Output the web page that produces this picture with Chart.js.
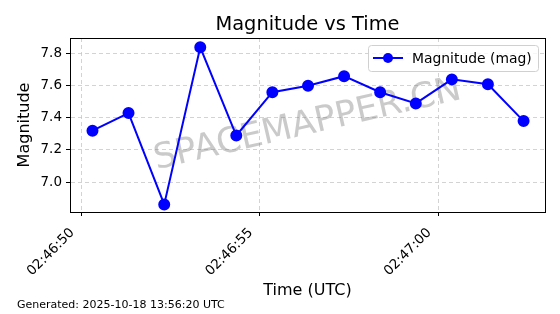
<!DOCTYPE html>
<html>
<head>
<meta charset="utf-8">
<script src="https://cdn.jsdelivr.net/npm/chart.js@4"></script>
<style>
  html, body { margin: 0; padding: 0; background: #fff; }
  canvas { display: block; }
</style>
</head>
<body>
<canvas id="magChart" width="560" height="314"></canvas>
<script>
// observation times (UTC) and measured magnitudes
const timeLabels = ['02:46:50.31', '02:46:51.32', '02:46:52.32', '02:46:53.33', '02:46:54.34',
    '02:46:55.35', '02:46:56.35', '02:46:57.36', '02:46:58.37', '02:46:59.37',
    '02:47:00.38', '02:47:01.39', '02:47:02.39'];
const magnitudes = [7.32, 7.43, 6.86, 7.84, 7.29, 7.56, 7.60, 7.66, 7.56, 7.49, 7.64, 7.61, 7.38];
const xTickLabels = ['02:46:50', '02:46:55', '02:47:00'];
const yTicks = [7.0, 7.2, 7.4, 7.6, 7.8];
const xRange = ['02:46:49.68', '02:47:02.99'];
const yRange = [6.813, 7.898];

const chartTitle = 'Magnitude vs Time';
const watermark = 'SPACEMAPPER.CN';
const footer = 'Generated: 2025-10-18 13:56:20 UTC';

const FONT = "'DejaVu Sans', sans-serif";
Chart.defaults.font.family = FONT;
Chart.defaults.color = '#000';

function toSec(t) {
    const p = t.split(':').map(Number);
    return p[0] * 3600 + p[1] * 60 + p[2];
}
function fmtTime(v) {
    const s = Math.round(v);
    const pad = n => String(n).padStart(2, '0');
    return pad(Math.floor(s / 3600)) + ':' + pad(Math.floor(s / 60) % 60) + ':' + pad(s % 60);
}

// title, watermark, frame, legend and footer, matplotlib style
const decorations = {
    id: 'decorations',
    beforeDatasetsDraw(chart) {
        const {ctx, chartArea: a} = chart;
        ctx.save();
        ctx.translate((a.left + a.right) / 2, (a.top + a.bottom) / 2);
        ctx.rotate(-13 * Math.PI / 180);
        ctx.font = '35px ' + FONT;
        ctx.fillStyle = 'rgba(128,128,128,0.42)';
        ctx.textAlign = 'center';
        ctx.textBaseline = 'middle';
        ctx.fillText(watermark, 0, 0);
        ctx.restore();
    },
    afterDraw(chart) {
        const {ctx, chartArea: a} = chart;
        ctx.save();
        // frame
        ctx.strokeStyle = '#000';
        ctx.lineWidth = 1;
        ctx.strokeRect(Math.round(a.left) + 0.5, Math.round(a.top) + 0.5,
            Math.round(a.right - a.left), Math.round(a.bottom - a.top));

        // title
        ctx.fillStyle = '#000';
        ctx.font = '19.4px ' + FONT;
        ctx.textAlign = 'center';
        ctx.textBaseline = 'alphabetic';
        ctx.fillText(chartTitle, (a.left + a.right) / 2, 30);

        // legend
        const ds = chart.data.datasets[0];
        const bx = 368, by = 45, bw = 170, bh = 26;
        ctx.beginPath();
        ctx.roundRect(bx + 0.5, by + 0.5, bw, bh, 3);
        ctx.fillStyle = 'rgba(255,255,255,0.8)';
        ctx.fill();
        ctx.strokeStyle = '#d0d0d0';
        ctx.stroke();
        const ly = by + bh / 2;
        ctx.beginPath();
        ctx.moveTo(373, ly);
        ctx.lineTo(403, ly);
        ctx.strokeStyle = ds.borderColor;
        ctx.lineWidth = 2;
        ctx.stroke();
        ctx.beginPath();
        ctx.arc(388, ly, 5, 0, Math.PI * 2);
        ctx.fillStyle = ds.backgroundColor;
        ctx.fill();
        ctx.fillStyle = '#000';
        ctx.font = '13.9px ' + FONT;
        ctx.textAlign = 'left';
        ctx.textBaseline = 'middle';
        ctx.fillText(ds.label, 412, ly + 1);

        // footer
        ctx.font = '11px ' + FONT;
        ctx.textBaseline = 'alphabetic';
        ctx.fillText(footer, 17, 308);
        ctx.restore();
    }
};

const ctx = document.getElementById('magChart').getContext('2d');
new Chart(ctx, {
    type: 'line',
    data: {
        datasets: [{
            label: 'Magnitude (mag)',
            data: timeLabels.map((t, i) => ({x: toSec(t), y: magnitudes[i]})),
            borderColor: '#0000ff',
            backgroundColor: '#0000ff',
            borderWidth: 2,
            pointRadius: 5,
            pointHoverRadius: 5,
            tension: 0
        }]
    },
    options: {
        responsive: false,
        animation: false,
        layout: {
            padding: {left: 4, right: 15, top: 38, bottom: 14}
        },
        scales: {
            x: {
                type: 'linear',
                min: toSec(xRange[0]),
                max: toSec(xRange[1]),
                afterBuildTicks: scale => {
                    scale.ticks = xTickLabels.map(t => ({value: toSec(t)}));
                },
                afterFit: scale => { scale.height = 88; },
                ticks: {
                    minRotation: 45,
                    maxRotation: 45,
                    padding: 9,
                    labelOffset: -9,
                    font: {size: 13.5},
                    callback: v => fmtTime(v)
                },
                grid: {
                    color: '#c8c8c8',
                    lineWidth: 0.8,
                    tickLength: 4,
                    tickColor: '#000',
                    tickWidth: 1,
                    tickBorderDash: [1, 0]
                },
                border: {display: true, color: '#000', dash: [4, 3]},
                title: {
                    display: true,
                    text: 'Time (UTC)',
                    font: {size: 16},
                    padding: {top: 2, bottom: 0}
                }
            },
            y: {
                min: yRange[0],
                max: yRange[1],
                afterBuildTicks: scale => {
                    scale.ticks = yTicks.map(v => ({value: v}));
                },
                afterFit: scale => { scale.width = 66; },
                ticks: {
                    padding: 4,
                    font: {size: 13.5},
                    callback: v => v.toFixed(1)
                },
                grid: {
                    color: '#c8c8c8',
                    lineWidth: 0.8,
                    tickLength: 4,
                    tickColor: '#000',
                    tickWidth: 1,
                    tickBorderDash: [1, 0]
                },
                border: {display: true, color: '#000', dash: [4, 3]},
                title: {
                    display: true,
                    text: 'Magnitude',
                    font: {size: 16},
                    padding: {top: 11, bottom: 0}
                }
            }
        },
        plugins: {
            legend: {display: false},
            title: {display: false},
            tooltip: {enabled: false}
        }
    },
    plugins: [decorations]
});
</script>
</body>
</html>
